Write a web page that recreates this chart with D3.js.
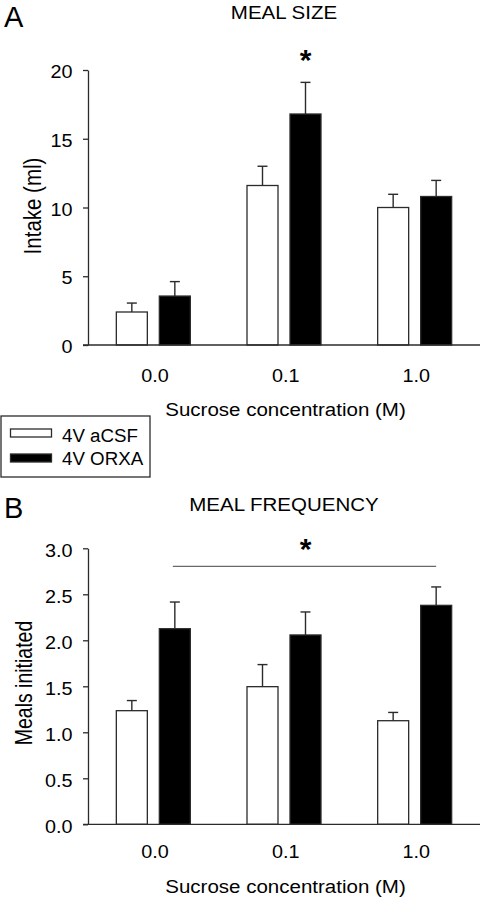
<!DOCTYPE html>
<html>
<head>
<meta charset="utf-8">
<script src="https://cdn.jsdelivr.net/npm/d3@7"></script>
<style>
  html, body { margin: 0; padding: 0; background: #fff; }
  svg { display: block; }
  text { font-family: "Liberation Sans", Arial, Helvetica, sans-serif; fill: #000; }
</style>
</head>
<body>
<svg id="chart" width="482" height="902"></svg>
<script>
// ---------- data ----------
const categories = ["0.0", "0.1", "1.0"];
const seriesNames = ["4V aCSF", "4V ORXA"];

const mealSizeACSF = [2.4, 11.6, 10.0];
const mealSizeACSFErr = [0.65, 1.4, 0.96];
const mealSizeORXA = [3.56, 16.8, 10.8];
const mealSizeORXAErr = [1.05, 2.3, 1.17];
const mealSizeTicks = [0, 5, 10, 15, 20];

const mealFreqACSF = [1.235, 1.496, 1.126];
const mealFreqACSFErr = [0.11, 0.24, 0.09];
const mealFreqORXA = [2.126, 2.058, 2.38];
const mealFreqORXAErr = [0.29, 0.25, 0.2];
const mealFreqTicks = [0, 0.5, 1.0, 1.5, 2.0, 2.5, 3.0];

// ---------- drawing ----------
const svg = d3.select("#chart");
const LINE = "#2b2b2b";
const SX = 1.1; // horizontal glyph stretch seen in the reference

function addText(x, y, str, opt = {}) {
  const sx = opt.sx == null ? SX : opt.sx;
  const rot = opt.rotate ? ` rotate(${opt.rotate})` : "";
  return svg.append("text")
    .attr("transform", `translate(${x},${y}) scale(${sx},1)${rot}`)
    .attr("text-anchor", opt.anchor || "middle")
    .attr("font-size", opt.size || 18)
    .attr("font-weight", opt.weight || "normal")
    .text(str);
}

const x = d3.scaleBand().domain(categories).range([88, 480]);
const xs = d3.scaleBand().domain(seriesNames).range([-37, 37]).paddingInner(0.279);
const fills = { "4V aCSF": "#ffffff", "4V ORXA": "#000000" };

function panel(cfg) {
  const y = d3.scaleLinear().domain(cfg.domain).range(cfg.range);
  const g = svg.append("g");

  // bars
  const rows = [];
  categories.forEach((c, i) => {
    rows.push({ c, s: seriesNames[0], v: cfg.a[i], e: cfg.aErr[i] });
    rows.push({ c, s: seriesNames[1], v: cfg.b[i], e: cfg.bErr[i] });
  });
  const cx = d => x(d.c) + x.bandwidth() / 2 + xs(d.s) + xs.bandwidth() / 2;

  // error bars (upper only)
  g.selectAll("line.err").data(rows).join("line")
    .attr("x1", cx).attr("x2", cx)
    .attr("y1", d => y(d.v)).attr("y2", d => y(d.v + d.e))
    .attr("stroke", LINE).attr("stroke-width", 1.4);
  g.selectAll("line.cap").data(rows).join("line")
    .attr("x1", d => cx(d) - 5).attr("x2", d => cx(d) + 5)
    .attr("y1", d => y(d.v + d.e)).attr("y2", d => y(d.v + d.e))
    .attr("stroke", LINE).attr("stroke-width", 1.4);

  g.selectAll("rect.bar").data(rows).join("rect")
    .attr("x", d => x(d.c) + x.bandwidth() / 2 + xs(d.s))
    .attr("width", xs.bandwidth())
    .attr("y", d => y(d.v))
    .attr("height", d => y(0) - y(d.v))
    .attr("fill", d => fills[d.s])
    .attr("stroke", LINE).attr("stroke-width", 1.3);

  // y axis
  const ya = g.append("g").attr("transform", "translate(88,0)")
    .call(d3.axisLeft(y).tickValues(cfg.ticks).tickFormat(cfg.fmt)
      .tickSize(5).tickSizeOuter(0).tickPadding(10.5));
  ya.select(".domain").attr("stroke", LINE).attr("stroke-width", 1.3);
  ya.selectAll(".tick line").attr("stroke", LINE).attr("stroke-width", 1.3);
  ya.selectAll(".tick text")
    .attr("font-size", 18)
    .attr("font-family", "Liberation Sans, Arial, sans-serif")
    .attr("fill", "#000")
    .attr("dy", "0.43em")
    .attr("x", -15.5 / SX)
    .attr("transform", `scale(${SX},1)`);

  // x axis
  g.append("line")
    .attr("x1", x.range()[0] - 5).attr("x2", x.range()[1])
    .attr("y1", y(0)).attr("y2", y(0))
    .attr("stroke", LINE).attr("stroke-width", 1.3);
  const xa = g.append("g").attr("transform", `translate(0,${y(0)})`)
    .call(d3.axisBottom(x).tickSize(0).tickSizeOuter(0));
  xa.select(".domain").remove();
  xa.selectAll(".tick text")
    .attr("font-size", 18)
    .attr("font-family", "Liberation Sans, Arial, sans-serif")
    .attr("fill", "#000")
    .attr("dy", 0)
    .attr("y", cfg.xLabelOff)
    .attr("x", 1.5)
    .attr("transform", `scale(${SX},1)`);

  // titles
  addText(4, cfg.letterY, cfg.letter, { anchor: "start", size: 29, sx: 1 });
  addText(284, cfg.titleY, cfg.title, { size: 18, sx: 1.14 });
  addText(285.5, cfg.xTitleY, "Sucrose concentration (M)", { size: 19, sx: 1.08 });
  addText(cfg.yTitleX, cfg.yTitleCY, cfg.yTitle, { size: cfg.yTitleSize, sx: 1.2, rotate: -90 });
  return y;
}

const yA = panel({
  domain: [0, 20], range: [345, 70], ticks: mealSizeTicks, fmt: d3.format("d"),
  a: mealSizeACSF, aErr: mealSizeACSFErr, b: mealSizeORXA, bErr: mealSizeORXAErr,
  xLabelOff: 37, letter: "A", letterY: 27, title: "MEAL SIZE", titleY: 18.5,
  xTitleY: 415.5, yTitle: "Intake (ml)", yTitleX: 40.5, yTitleCY: 206, yTitleSize: 20.5
});

const yB = panel({
  domain: [0, 3], range: [824.3, 548.3], ticks: mealFreqTicks, fmt: d3.format(".1f"),
  a: mealFreqACSF, aErr: mealFreqACSFErr, b: mealFreqORXA, bErr: mealFreqORXAErr,
  xLabelOff: 34, letter: "B", letterY: 518, title: "MEAL FREQUENCY", titleY: 511,
  xTitleY: 893, yTitle: "Meals initiated", yTitleX: 32.3, yTitleCY: 683, yTitleSize: 19.5
});

// significance markers
const orxaCenter = c => x(c) + x.bandwidth() / 2 + xs("4V ORXA") + xs.bandwidth() / 2;
addText(orxaCenter("0.1"), 53 + 17, "*", { size: 30, weight: "bold", sx: 1 });
svg.append("line")
  .attr("x1", orxaCenter("0.0") - 2).attr("x2", orxaCenter("1.0"))
  .attr("y1", 566.3).attr("y2", 566.3)
  .attr("stroke", "#444").attr("stroke-width", 1);
addText((orxaCenter("0.0") + orxaCenter("1.0")) / 2, 541.7 + 17, "*", { size: 30, weight: "bold", sx: 1 });

// legend
svg.append("rect").attr("x", 1).attr("y", 416).attr("width", 149).attr("height", 61)
  .attr("fill", "none").attr("stroke", LINE).attr("stroke-width", 1.3);
const legY = [433, 458];
seriesNames.forEach((s, i) => {
  svg.append("rect").attr("x", 10.5).attr("y", legY[i] - 4).attr("width", 41).attr("height", 8)
    .attr("fill", fills[s]).attr("stroke", LINE).attr("stroke-width", 1.3);
  addText(62, [442, 465][i], s, { anchor: "start", size: 18, sx: 1.04 });
});
</script>
</body>
</html>
